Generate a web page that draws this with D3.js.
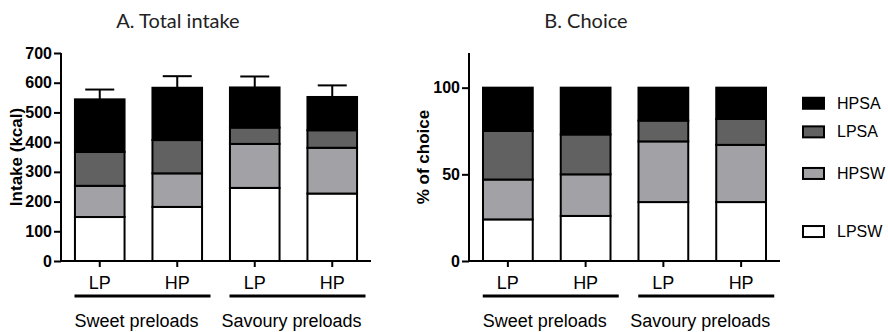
<!DOCTYPE html>
<html>
<head>
<meta charset="utf-8">
<script src="https://cdn.jsdelivr.net/npm/d3@7"></script>
<style>
    body { margin: 0; background: #fff; }
    svg { display: block; }
    .axis text { font-family: 'Liberation Sans', Arial, sans-serif; }
</style>
</head>
<body>
<svg id="chart" width="888" height="332"></svg>
<script>
const groups = ['Sweet preloads', 'Savoury preloads'];
const conditions = ['LP', 'HP', 'LP', 'HP'];
const components = ['LPSW', 'HPSW', 'LPSA', 'HPSA'];
const colors = { LPSW: '#ffffff', HPSW: '#a2a2a6', LPSA: '#616161', HPSA: '#000000' };

// A. Total intake (kcal), per component, per bar
const intakeLPSW = [148, 182, 246, 227];
const intakeHPSW = [105, 113, 148, 154];
const intakeLPSA = [114, 112, 55, 59];
const intakeHPSA = [177, 176, 135, 112];
const intakeSEM = [33, 39, 37, 39];
const intakeTicks = [0, 100, 200, 300, 400, 500, 600, 700];

// B. Choice (%), per component, per bar
const choiceLPSW = [24, 26, 34, 34];
const choiceHPSW = [23, 24, 35, 33];
const choiceLPSA = [28, 23, 12, 15];
const choiceHPSA = [25, 27, 19, 18];
const choiceTicks = [0, 50, 100];

const svg = d3.select('#chart');
const sans = "'Liberation Sans', Arial, sans-serif";

const buildRows = (lpsw, hpsw, lpsa, hpsa, sem) => conditions.map((c, i) => ({
    id: i, cond: c,
    LPSW: lpsw[i], HPSW: hpsw[i], LPSA: lpsa[i], HPSA: hpsa[i],
    sem: sem ? sem[i] : 0
}));

const drawPanel = (opts) => {
    const { x0, x1, yMax, ticks, rows, title, yTitle, yTitleX, legend } = opts;
    const g = svg.append('g');

    const x = d3.scaleBand()
        .domain(rows.map(d => d.id))
        .range([x0, x1])
        .paddingInner(0.36)
        .paddingOuter(0.18);
    const y = d3.scaleLinear().domain([0, yMax]).range([261, 53]);

    const series = d3.stack().keys(components)(rows);

    // bars
    g.selectAll('g.layer')
        .data(series)
        .enter().append('g')
        .attr('class', 'layer')
        .attr('fill', d => colors[d.key])
        .selectAll('rect')
        .data(d => d)
        .enter().append('rect')
        .attr('x', d => x(d.data.id))
        .attr('width', x.bandwidth())
        .attr('y', d => y(d[1]))
        .attr('height', d => y(d[0]) - y(d[1]))
        .attr('stroke', '#000')
        .attr('stroke-width', 2);

    // error bars (upper only)
    const top = series[series.length - 1];
    const err = g.selectAll('g.err')
        .data(top.filter(d => d.data.sem > 0))
        .enter().append('g')
        .attr('class', 'err')
        .attr('stroke', '#000')
        .attr('stroke-width', 2);
    err.append('line')
        .attr('x1', d => x(d.data.id) + x.bandwidth() / 2)
        .attr('x2', d => x(d.data.id) + x.bandwidth() / 2)
        .attr('y1', d => y(d[1]))
        .attr('y2', d => y(d[1] + d.data.sem));
    err.append('line')
        .attr('x1', d => x(d.data.id) + x.bandwidth() / 2 - 14.5)
        .attr('x2', d => x(d.data.id) + x.bandwidth() / 2 + 14.5)
        .attr('y1', d => y(d[1] + d.data.sem))
        .attr('y2', d => y(d[1] + d.data.sem));

    // y axis
    const yAxis = g.append('g')
        .attr('class', 'axis')
        .attr('transform', `translate(${x0},0)`)
        .call(d3.axisLeft(y).tickValues(ticks).tickSize(7).tickSizeOuter(0).tickPadding(2));
    yAxis.selectAll('path, line').attr('stroke', '#000').attr('stroke-width', 2);
    yAxis.select('path').attr('d', `M0,${y(0)}V${y(yMax)}`);
    yAxis.selectAll('text')
        .attr('fill', '#000')
        .style('font-size', '16px')
        .style('font-weight', 'bold');

    // x axis
    const xAxis = g.append('g')
        .attr('class', 'axis')
        .attr('transform', `translate(0,${y(0)})`)
        .call(d3.axisBottom(x).tickSize(6).tickSizeOuter(0).tickPadding(9)
            .tickFormat(i => conditions[i]));
    xAxis.selectAll('path, line').attr('stroke', '#000').attr('stroke-width', 2);
    xAxis.select('path').attr('d', `M${x0 - 1},0H${x1}`);
    xAxis.selectAll('text')
        .attr('fill', '#000')
        .style('font-size', '18px');

    // group brackets and labels
    groups.forEach((name, gi) => {
        const a = x(gi * 2);
        const b = x(gi * 2 + 1) + x.bandwidth();
        const cx = (a + b) / 2;
        g.append('line')
            .attr('x1', cx - 64).attr('x2', cx + 72)
            .attr('y1', 296).attr('y2', 296)
            .attr('stroke', '#000').attr('stroke-width', 3);
        g.append('text')
            .attr('x', cx - 2).attr('y', 327)
            .attr('text-anchor', 'middle')
            .style('font-family', sans)
            .style('font-size', '18px')
            .text(name);
    });

    // titles
    g.append('text')
        .attr('x', x0 + 117).attr('y', 28)
        .attr('text-anchor', 'middle')
        .attr('fill', '#222')
        .style('font-family', 'Lato, "Open Sans", sans-serif')
        .style('font-size', '20px')
        .text(title);
    g.append('text')
        .attr('transform', `translate(${yTitleX},157) rotate(-90)`)
        .attr('text-anchor', 'middle')
        .style('font-family', sans)
        .style('font-size', '17px')
        .style('font-weight', 'bold')
        .text(yTitle);

    // legend, aligned with the segments of the last bar
    if (legend) {
        const last = rows.length - 1;
        const items = series.map(s => ({ key: s.key, mid: y((s[last][0] + s[last][1]) / 2) }));
        const lg = g.selectAll('g.legend')
            .data(items)
            .enter().append('g')
            .attr('class', 'legend')
            .attr('transform', d => `translate(803,${d.mid})`);
        lg.append('rect')
            .attr('x', 0).attr('y', -5.5)
            .attr('width', 21).attr('height', 11)
            .attr('fill', d => colors[d.key])
            .attr('stroke', '#000')
            .attr('stroke-width', 2);
        lg.append('text')
            .attr('x', 34).attr('y', 0)
            .attr('dy', '0.35em')
            .style('font-family', sans)
            .style('font-size', '16px')
            .text(d => d.key);
    }
};

drawPanel({
    x0: 61, x1: 371, yMax: 700, ticks: intakeTicks,
    rows: buildRows(intakeLPSW, intakeHPSW, intakeLPSA, intakeHPSA, intakeSEM),
    title: 'A. Total intake', yTitle: 'Intake (kcal)', yTitleX: 22, legend: false
});

drawPanel({
    x0: 469, x1: 780, yMax: 120, ticks: choiceTicks,
    rows: buildRows(choiceLPSW, choiceHPSW, choiceLPSA, choiceHPSA),
    title: 'B. Choice', yTitle: '% of choice', yTitleX: 429, legend: true
});
</script>
</body>
</html>
